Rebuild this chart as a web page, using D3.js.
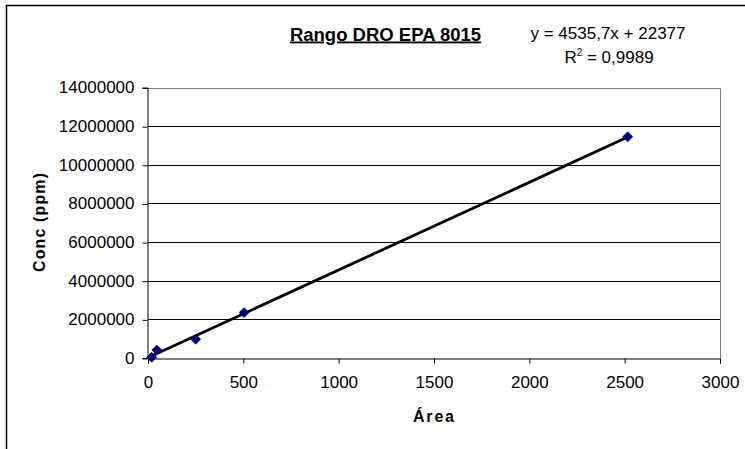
<!DOCTYPE html>
<html>
<head>
<meta charset="utf-8">
<script src="https://cdn.jsdelivr.net/npm/d3@7"></script>
<style>
  body { margin: 0; background: #fff; }
  text { font-family: Arial, "Liberation Sans", sans-serif; }
</style>
</head>
<body>
<div id="chart"></div>
<script>
// Calibration points
const areas = [19, 46, 250, 504, 2516];
const concs = [36000, 414000, 970000, 2350000, 11450000];
const slope = 4535.7;
const intercept = 22377;
const xTicks = [0, 500, 1000, 1500, 2000, 2500, 3000];
const yTicks = [0, 2000000, 4000000, 6000000, 8000000, 10000000, 12000000, 14000000];

const width = 745, height = 449;
const plot = { left: 148, right: 720, top: 87.5, bottom: 358 };

const svg = d3.select('#chart').append('svg')
  .attr('width', width)
  .attr('height', height);

// outer chart frame (runs off the right/bottom edge like the screenshot)
svg.append('rect')
  .attr('x', 6.5).attr('y', 5.5)
  .attr('width', 760).attr('height', 460)
  .attr('fill', '#fff')
  .attr('stroke', '#000')
  .attr('stroke-width', 1.5);

const x = d3.scaleLinear().domain([0, 3000]).range([plot.left, plot.right]);
const y = d3.scaleLinear().domain([0, 14000000]).range([plot.bottom, plot.top]);

// gridlines
svg.append('g')
  .selectAll('line')
  .data(yTicks.filter(d => d > 0 && d < 14000000))
  .join('line')
  .attr('x1', plot.left).attr('x2', plot.right)
  .attr('y1', d => Math.round(y(d)) + 0.5).attr('y2', d => Math.round(y(d)) + 0.5)
  .attr('stroke', '#000')
  .attr('stroke-width', 1);

// plot area border (top + right in gray)
svg.append('path')
  .attr('d', `M${plot.left},${Math.round(plot.top) + 0.5}H${plot.right + 0.5}V${plot.bottom}`)
  .attr('fill', 'none')
  .attr('stroke', '#808080')
  .attr('stroke-width', 1);

// axes
const xAxis = svg.append('g')
  .attr('transform', `translate(0,${Math.round(plot.bottom) + 0.5})`)
  .call(d3.axisBottom(x).tickValues(xTicks).tickSize(5).tickPadding(12).tickFormat(d3.format('d')));

const yAxis = svg.append('g')
  .attr('transform', `translate(${plot.left - 0.5},0)`)
  .call(d3.axisLeft(y).tickValues(yTicks).tickSize(5).tickPadding(8).tickFormat(d3.format('d')));

[xAxis, yAxis].forEach(g => {
  g.select('.domain').attr('stroke', '#000');
  g.selectAll('.tick line').attr('stroke', '#000');
  g.selectAll('.tick text')
    .attr('fill', '#000')
    .style('font-size', '17px')
    .style('font-family', 'Arial, "Liberation Sans", sans-serif');
});
yAxis.selectAll('.tick line').attr('transform', 'translate(0,0.5)');

// trendline across the data range
const xExt = d3.extent(areas);
svg.append('line')
  .attr('x1', x(xExt[0])).attr('y1', y(slope * xExt[0] + intercept))
  .attr('x2', x(xExt[1])).attr('y2', y(slope * xExt[1] + intercept))
  .attr('stroke', '#000')
  .attr('stroke-width', 2.8);

// markers
svg.append('g')
  .selectAll('path')
  .data(areas.map((a, i) => ({ a, c: concs[i] })))
  .join('path')
  .attr('d', d3.symbol(d3.symbolDiamond2, 62))
  .attr('transform', d => `translate(${x(d.a)},${y(d.c)})`)
  .attr('fill', '#000080')
  .attr('stroke', '#000060')
  .attr('stroke-width', 0.8);

// title
svg.append('text')
  .attr('x', 385.5).attr('y', 40.5)
  .attr('text-anchor', 'middle')
  .style('font-size', '18.5px')
  .style('font-weight', 'bold')
  .style('text-decoration', 'underline')
  .text('Rango DRO EPA 8015');

// trendline equation
svg.append('text')
  .attr('x', 608).attr('y', 39)
  .attr('text-anchor', 'middle')
  .style('font-size', '17px')
  .text('y = 4535,7x + 22377');

const r2 = svg.append('text')
  .attr('x', 609).attr('y', 63)
  .attr('text-anchor', 'middle')
  .style('font-size', '17px');
r2.append('tspan').text('R');
r2.append('tspan').attr('dy', -7).style('font-size', '10px').text('2');
r2.append('tspan').attr('dy', 7).text(' = 0,9989');

// axis titles
svg.append('text')
  .attr('x', 433.5).attr('y', 421.5)
  .attr('text-anchor', 'middle')
  .attr('textLength', 41)
  .attr('lengthAdjust', 'spacing')
  .style('font-size', '16px')
  .style('font-weight', 'bold')
  .text('Área');

svg.append('text')
  .attr('transform', 'translate(44.5,222.5) rotate(-90)')
  .attr('text-anchor', 'middle')
  .attr('textLength', 99)
  .attr('lengthAdjust', 'spacing')
  .style('font-size', '16px')
  .style('font-weight', 'bold')
  .text('Conc (ppm)');
</script>
</body>
</html>
